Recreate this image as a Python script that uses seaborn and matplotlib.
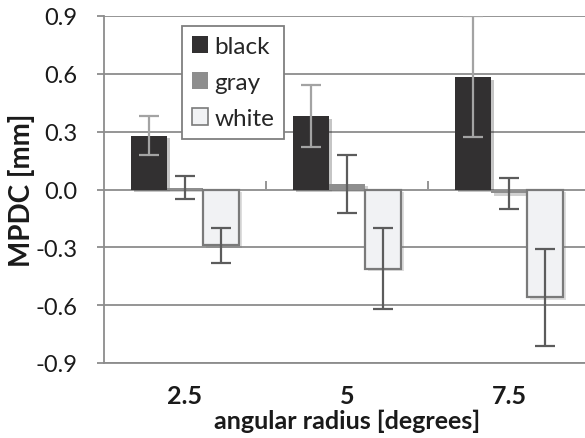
import numpy as np
import pandas as pd
import seaborn as sns
import matplotlib
matplotlib.use("Agg")
import matplotlib.pyplot as plt
import matplotlib.patches as mpatches
import matplotlib.patheffects as pe

# ---- data ----
radii = ["2.5", "5", "7.5"]
colors_names = ["black", "gray", "white"]
black_vals = [0.28, 0.38, 0.585]
black_err = [0.10, 0.16, 0.315]
gray_vals = [0.01, 0.03, -0.02]
gray_err = [0.06, 0.15, 0.08]
white_vals = [-0.29, -0.41, -0.56]
white_err = [0.09, 0.21, 0.25]
ytick_vals = [-0.9, -0.6, -0.3, 0.0, 0.3, 0.6, 0.9]
ytick_labels = ["-0.9", "-0.6", "-0.3", "0.0", "0.3", "0.6", "0.9"]

face = {"black": "#323031", "gray": "#8e8e8e", "white": "#f1f2f4"}
edge = {"black": "#323031", "gray": "#8e8e8e", "white": "#7a7a7a"}
ecol = {"black": "#a3a3a3", "gray": "#5c5c5c", "white": "#5c5c5c"}

vals = {"black": black_vals, "gray": gray_vals, "white": white_vals}
errs = {"black": black_err, "gray": gray_err, "white": white_err}

rows = []
for c in colors_names:
    for r, v in zip(radii, vals[c]):
        rows.append({"radius": r, "color": c, "MPDC": v})
df = pd.DataFrame(rows)

sns.set_style("white")
plt.rcParams["font.family"] = ["Lato", "DejaVu Sans"]

fig = plt.figure(figsize=(5.85, 4.39), dpi=100)
ax = fig.add_axes([104 / 585, 1 - 364 / 439, 486 / 585, 347 / 439])

sns.barplot(data=df, x="radius", y="MPDC", hue="color", order=radii,
            hue_order=colors_names, palette=face, width=0.667, gap=0,
            errorbar=None, legend=False, ax=ax, zorder=3, linewidth=0)

gridc = "#8c8c8c"
txtc = "#1a1a1a"
ax.set_ylim(-0.9, 0.9)
ax.set_xlim(-0.5, 2.5)
ax.set_yticks(ytick_vals)
ax.set_yticklabels(ytick_labels)
for yv in ytick_vals:
    ax.axhline(yv, color=gridc, lw=1.3, zorder=1)

for cont, c in zip(ax.containers, colors_names):
    for bar in cont.patches:
        bar.set_edgecolor(edge[c])
        bar.set_linewidth(1.6 if c == "white" else 0)
        bar.set_path_effects([pe.SimplePatchShadow(offset=(2, -2), alpha=0.25, rho=0.5),
                              pe.Normal()])
    xs = [b.get_x() + b.get_width() / 2 for b in cont.patches]
    ax.errorbar(xs, vals[c], yerr=errs[c], fmt="none", ecolor=ecol[c],
                elinewidth=1.6, capsize=7, capthick=1.6, zorder=5, clip_on=True)

for s in ["top", "right"]:
    ax.spines[s].set_visible(False)
ax.spines["left"].set_color(gridc)
ax.spines["left"].set_linewidth(1.3)
ax.spines["bottom"].set_color(gridc)
ax.spines["bottom"].set_linewidth(1.3)

ax.tick_params(axis="y", direction="out", length=5, width=1.3, color=gridc,
               pad=14, labelsize=17, labelcolor=txtc, left=True)
ax.tick_params(axis="x", length=0, pad=15, labelsize=18, labelcolor=txtc)
for t in ax.get_xticklabels():
    t.set_fontweight("bold")

sec = ax.secondary_xaxis(0.5)
sec.set_xticks([0.5, 1.5])
sec.set_xticklabels(["", ""])
sec.tick_params(direction="out", length=6, width=1.3, color=gridc)
sec.spines["bottom"].set_visible(False)
sec.spines["top"].set_visible(False)

ax.set_xlabel("angular radius [degrees]", fontsize=18, fontweight="bold",
              color=txtc, labelpad=1)
ax.set_ylabel("MPDC [mm]", fontsize=20, fontweight="bold", color=txtc,
              labelpad=0)

handles = [mpatches.Patch(facecolor=face[c], edgecolor=edge[c],
                          linewidth=1.2 if c == "white" else 0, label=c)
           for c in colors_names]
leg = ax.legend(handles=handles, loc="upper left",
                bbox_to_anchor=((182 - 104) / 486, (364 - 27) / 347),
                borderaxespad=0, fontsize=17.5, frameon=True, fancybox=False,
                framealpha=1, edgecolor="#7f7f7f", handlelength=0.68,
                handleheight=0.68, handletextpad=0.25, labelspacing=0.62,
                borderpad=0.4)
leg.get_frame().set_linewidth(1.3)
leg.set_zorder(10)

fig.savefig("out.png", dpi=100)
